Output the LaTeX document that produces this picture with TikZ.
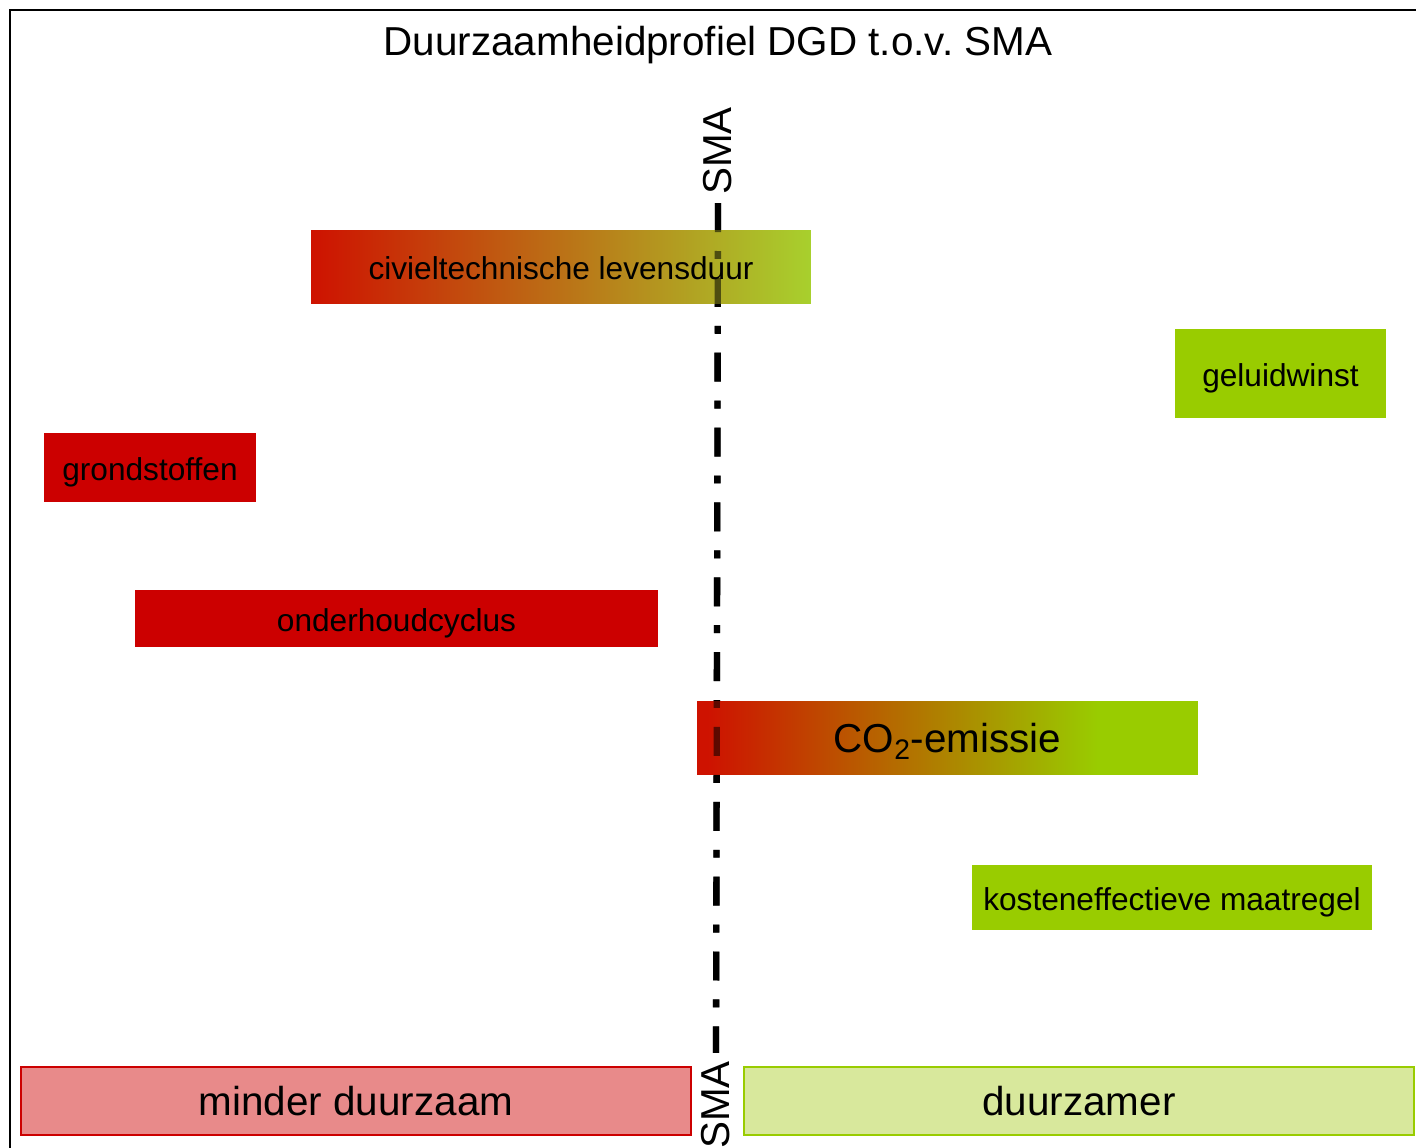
\documentclass[tikz,border=0pt]{standalone}
\usepackage{fontspec}
\setmainfont{Liberation Sans}
\usepackage{tikz}
\usetikzlibrary{shapes,arrows,positioning,calc}
\usepackage{xcolor}
\frenchspacing

\definecolor{darkRed}{RGB}{204,0,0}
\definecolor{limeGreen}{RGB}{153,204,0}
\definecolor{paleRed}{RGB}{232,138,138}
\definecolor{paleGreen}{RGB}{216,232,156}
\definecolor{shadeRed}{RGB}{206,18,0}
\definecolor{shadeLime}{RGB}{168,208,45}

% path is mapped onto 25bp..75bp of the shading
\pgfdeclarehorizontalshading{civielshade}{100bp}{color(0bp)=(shadeRed); color(25bp)=(shadeRed); color(75bp)=(shadeLime); color(100bp)=(shadeLime)}
\pgfdeclarehorizontalshading{coshade}{100bp}{color(0bp)=(shadeRed); color(26bp)=(shadeRed); color(65bp)=(limeGreen); color(100bp)=(limeGreen)}

\begin{document}
\begin{tikzpicture}[x=0.02cm,y=-0.02cm,
    bar/.style={rectangle, inner sep=0pt, text=black, font=\fontsize{18}{20}\selectfont,
                text height=15.5pt, text depth=1pt},
    bigbar/.style={bar, font=\fontsize{23}{26}\selectfont, text height=19pt, text depth=2pt},
    smalabel/.style={rotate=90, inner sep=4.5pt, font=\fontsize{23}{26}\selectfont},
    smaline/.style={line width=3.6pt, dash pattern=on 16.5pt off 10.8pt on 4.5pt off 10.8pt}]
    \useasboundingbox (0,0) rectangle (1416,1148);
    \clip (0,0) rectangle (1416,1148);

    % Frame and title
    \draw[line width=1pt] (10,1170) -- (10,10) -- (1440,10);
    \node[font=\fontsize{23}{26}\selectfont] (title) at (718,45) {Duurzaamheidprofiel DGD t.o.v. SMA};

    % SMA reference line
    \node[smalabel] (smaTop) at (718,151) {SMA};
    \node[smalabel] (smaBot) at (716,1105) {SMA};
    \draw[smaline] (smaTop.west) -- (smaBot.east);

    % Bars
    \node[bar, shading=civielshade, minimum width=10cm, minimum height=1.48cm] (civiel) at (561,267) {civieltechnische levensduur};
    \node[bar, fill=limeGreen, minimum width=4.22cm, minimum height=1.78cm] (geluid) at (1280.5,373.5) {geluidwinst};
    \node[bar, fill=darkRed, minimum width=4.24cm, minimum height=1.38cm] (grond) at (150,467.5) {grondstoffen};
    \node[bar, fill=darkRed, minimum width=10.46cm, minimum height=1.14cm] (onderhoud) at (396.5,618.5) {onderhoudcyclus};
    \node[bigbar, shading=coshade, minimum width=10.02cm, minimum height=1.48cm] (co2) at (947.5,738) {CO\textsubscript{2}-emissie};
    \node[bar, fill=limeGreen, minimum width=8cm, minimum height=1.3cm] (kosten) at (1172,897.5) {kosteneffectieve maatregel};

    % line shows through the bars
    \draw[smaline, draw opacity=0.55] (smaTop.west) -- (smaBot.east);

    % Legend
    \node[bigbar, fill=paleRed, draw=darkRed, line width=1pt, minimum width=13.4cm, minimum height=1.36cm] (minder) at (356,1101) {minder duurzaam};
    \node[bigbar, fill=paleGreen, draw=limeGreen, line width=1pt, minimum width=13.4cm, minimum height=1.36cm] (duurzamer) at (1079,1101) {duurzamer};
\end{tikzpicture}
\end{document}
